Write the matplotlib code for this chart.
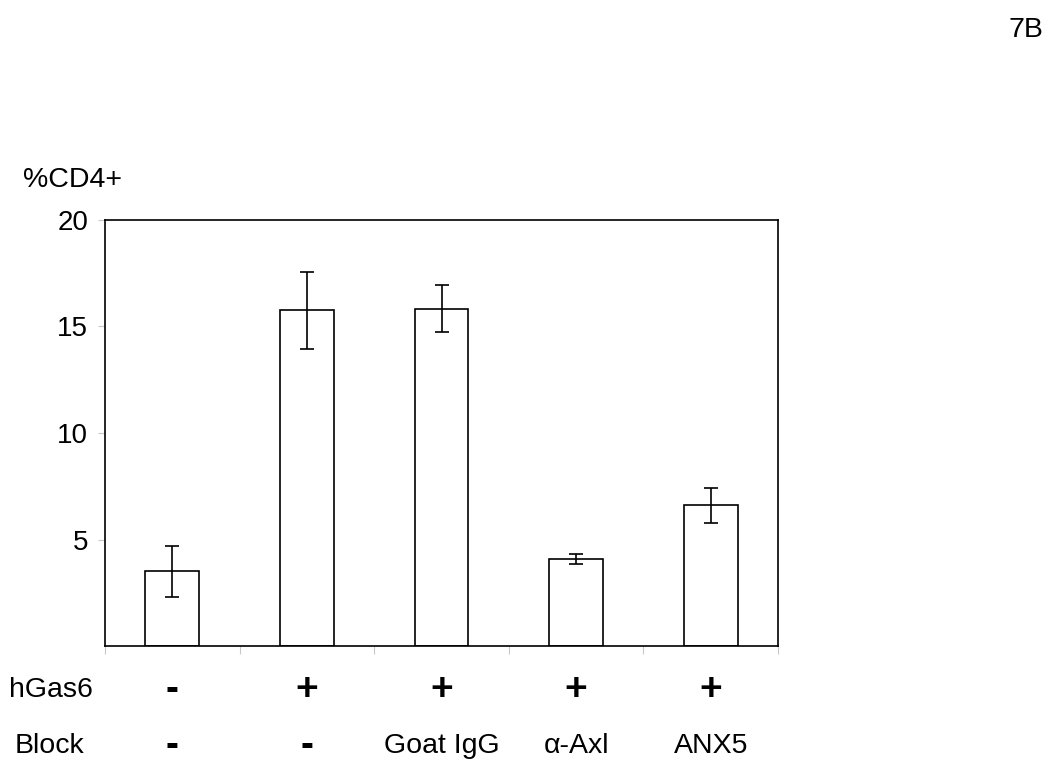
import matplotlib
matplotlib.use("Agg")
import matplotlib.pyplot as plt
import numpy as np

plt.rcParams['font.family'] = ['Liberation Sans', 'DejaVu Sans']

hgas6 = ["-", "+", "+", "+", "+"]
block = ["-", "-", "Goat IgG", "α-Axl", "ANX5"]
cd4 = [3.5, 15.75, 15.82, 4.08, 6.6]
err = [1.2, 1.82, 1.1, 0.22, 0.83]
yticks = [5, 10, 15, 20]

fig = plt.figure(figsize=(10.5, 7.71), dpi=100)
ax = fig.add_axes([0.1, 0.162, 0.641, 0.553])

x = np.arange(len(cd4))
ax.bar(x, cd4, width=0.4, color="white", edgecolor="black", linewidth=1.2, zorder=2)
ax.errorbar(x, cd4, yerr=err, fmt="none", ecolor="black", elinewidth=1.2,
            capsize=4.8, capthick=1.2, zorder=3)

ax.set_xlim(-0.5, 4.5)
ax.set_ylim(0, 20)
ax.set_yticks(yticks)
ax.set_yticklabels([str(t) for t in yticks], fontsize=20)
ax.tick_params(axis="y", length=5, color="#c8c8c8", pad=7)
ax.set_xticks(np.arange(-0.5, 5, 1))
ax.set_xticklabels([])
ax.tick_params(axis="x", length=6, color="#c8c8c8")
for s in ax.spines.values():
    s.set_linewidth(1.2)

fs = 20.5
fig.text(23 / 1050, 1 - 180 / 771, "%CD4+", fontsize=fs, va="center", ha="left")
fig.text(1043 / 1050, 1 - 30 / 771, "7B", fontsize=fs, va="center", ha="right")

row1 = 1 - 690 / 771
row2 = 1 - 746 / 771
fig.text(9 / 1050, row1, "hGas6", fontsize=fs, va="center", ha="left")
fig.text(15 / 1050, row2, "Block", fontsize=fs, va="center", ha="left")

for i in range(len(cd4)):
    xf = fig.transFigure.inverted().transform(ax.transData.transform((x[i], 0)))[0]
    fig.text(xf, row1, hgas6[i], fontsize=28, fontweight="bold", va="center", ha="center")
    if block[i] in ("-", "+"):
        fig.text(xf, row2, block[i], fontsize=28, fontweight="bold", va="center", ha="center")
    else:
        fig.text(xf, row2, block[i], fontsize=fs, va="center", ha="center")

fig.savefig("out.png", dpi=100)
